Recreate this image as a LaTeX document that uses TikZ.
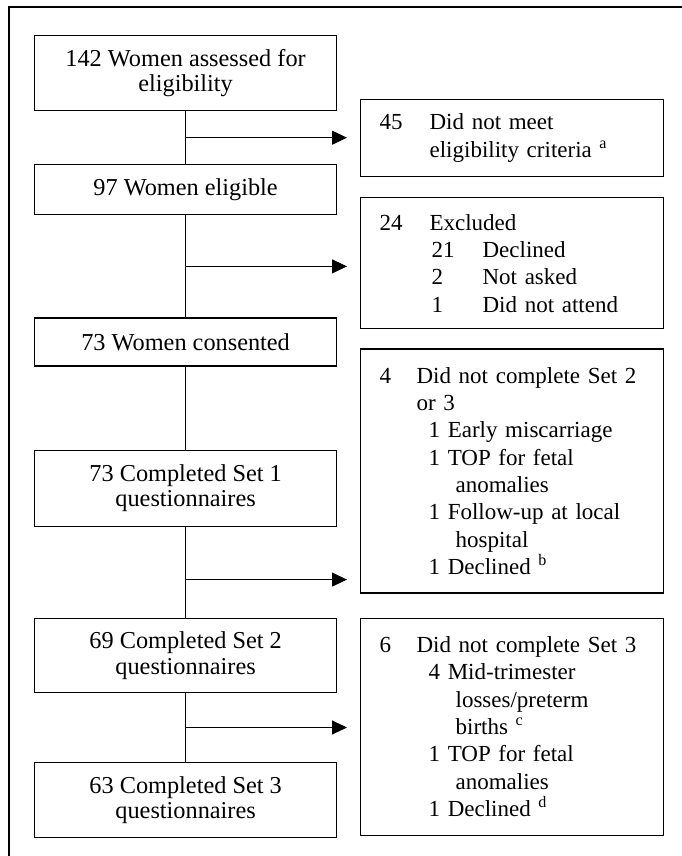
\documentclass[tikz,border=0pt]{standalone}
\usepackage{fontspec}
\setmainfont{Liberation Serif}
\usetikzlibrary{positioning,arrows.meta,calc}

\begin{document}
\begin{tikzpicture}[
  x=1pt, y=1pt,
  box/.style={draw, line width=1.2pt, inner sep=0pt},
  stage/.style={box, align=center, minimum width=302pt,
                font=\fontsize{24.3}{25.8}\selectfont},
  side/.style={box, align=left, text width=265pt, inner xsep=19pt,
               font=\fontsize{23}{27.3}\selectfont},
  link/.style={line width=1pt},
  arr/.style={link, -{Triangle[length=15pt,width=14pt]}, shorten >=13pt},
]
\useasboundingbox (0,0) rectangle (682,-856);

% ------------------------------------------------------------- frame
\draw[line width=2pt] (682,-7.5) -- (8.5,-7.5) -- (8.5,-856);

% ------------------------------------------------------ main stages
\node[stage, minimum height=75pt, anchor=north west] (assess) at (34,-35)
  {142 Women assessed for\\ eligibility};
\node[stage, minimum height=50pt, below=53pt of assess] (elig)
  {97 Women eligible};
\node[stage, minimum height=48pt, below=102pt of elig] (consent)
  {73 Women consented};
\node[stage, minimum height=76pt, below=83pt of consent] (set1)
  {73 Completed Set 1\\ questionnaires};
\node[stage, minimum height=74pt, below=91pt of set1] (set2)
  {69 Completed Set 2\\ questionnaires};
\node[stage, minimum height=75pt, below=69pt of set2] (set3)
  {63 Completed Set 3\\ questionnaires};

% ------------------------------------------------------ losses
\node[side, minimum height=77pt, anchor=north west] (notmeet) at (360,-99)
  {\makebox[50pt][l]{45}Did not meet\\
   \hspace*{50pt}eligibility criteria \textsuperscript{a}};

\node[side, minimum height=131pt, below=20pt of notmeet] (excl)
  {\makebox[50pt][l]{24}Excluded\\
   \hspace*{52pt}\makebox[51pt][l]{21}Declined\\
   \hspace*{52pt}\makebox[51pt][l]{2}Not asked\\
   \hspace*{52pt}\makebox[51pt][l]{1}Did not attend};

\node[side, minimum height=244pt, below=19pt of excl] (drop1)
  {\makebox[37pt][l]{4}\mbox{Did not complete Set 2}\\
   \hspace*{37pt}or 3\\
   \hspace*{49pt}1 Early miscarriage\\
   \hspace*{49pt}1 TOP for fetal\\
   \hspace*{76pt}anomalies\\
   \hspace*{49pt}1 Follow-up at local\\
   \hspace*{76pt}hospital\\
   \hspace*{49pt}1 Declined \textsuperscript{b}};

\node[side, minimum height=217pt, below=24pt of drop1] (drop2)
  {\makebox[37pt][l]{6}\mbox{Did not complete Set 3}\\
   \hspace*{49pt}4 Mid-trimester\\
   \hspace*{76pt}losses/preterm\\
   \hspace*{76pt}births \textsuperscript{c}\\
   \hspace*{49pt}1 TOP for fetal\\
   \hspace*{76pt}anomalies\\
   \hspace*{49pt}1 Declined \textsuperscript{d}};

% ------------------------------------------------------------- arrows
\draw[link] (assess)  -- (elig);
\draw[link] (elig)    -- (consent);
\draw[link] (consent) -- (set1);
\draw[link] (set1)    -- (set2);
\draw[link] (set2)    -- (set3);

\coordinate (j1) at ($(assess.south)!0.5!(elig.north)$);
\coordinate (j2) at ($(elig.south)!0.5!(consent.north)$);
\coordinate (j3) at ($(set1.south)!0.58!(set2.north)$);
\coordinate (j4) at ($(set2.south)!0.5!(set3.north)$);

\draw[arr] (j1) -- (j1 -| notmeet.west);
\draw[arr] (j2) -- (j2 -| excl.west);
\draw[arr] (j3) -- (j3 -| drop1.west);
\draw[arr] (j4) -- (j4 -| drop2.west);

\end{tikzpicture}
\end{document}
